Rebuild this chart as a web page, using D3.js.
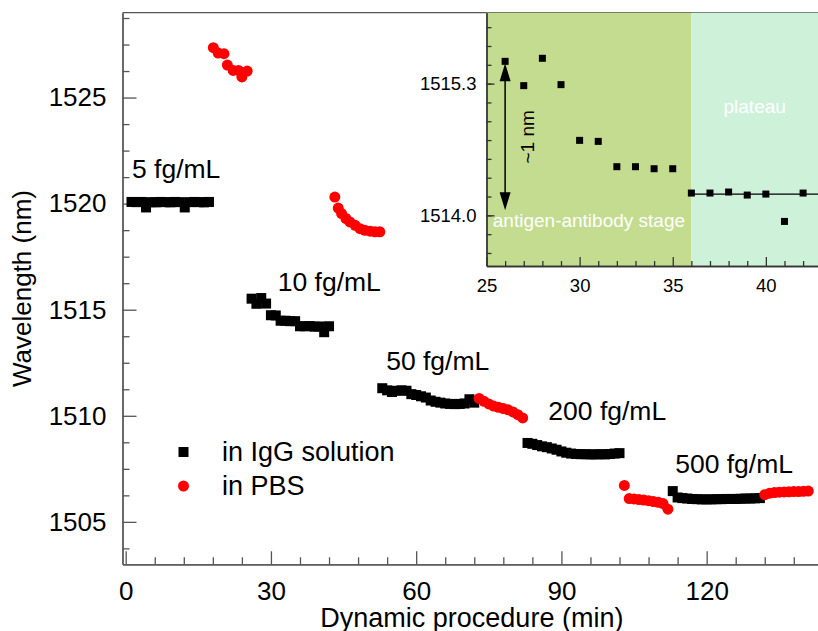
<!DOCTYPE html>
<html>
<head>
<meta charset="utf-8">
<script src="https://cdn.jsdelivr.net/npm/d3@7"></script>
<style>
  html, body { margin: 0; padding: 0; background: #fff; }
  svg { display: block; }
</style>
</head>
<body>
<svg id="chart" width="818" height="631"></svg>
<script>
// ---- Resonance wavelength recorded during the dynamic procedure ----
// IgG solution steps (black squares) and PBS rinses (red circles)
const igg5Time  = [1.2, 2.2, 3.2, 4.2, 5.2, 6.2, 7.2, 8.2, 9.2, 10.2, 11.2, 12.2, 13.2, 14.2, 15.2, 16.2, 17.2];
const igg5Wave  = [1520.08, 1520.07, 1520.08, 1519.82, 1520.07, 1520.06, 1520.08, 1520.07, 1520.06, 1520.08, 1520.07, 1519.82, 1520.07, 1520.08, 1520.07, 1520.06, 1520.08];

const pbs1Time  = [18.1, 19.1, 20.3, 21.0, 22.2, 23.3, 24.0, 25.1];
const pbs1Wave  = [1527.35, 1527.10, 1527.07, 1526.53, 1526.28, 1526.28, 1525.97, 1526.25];

const igg10Time = [26, 27, 28, 29, 30, 31, 32, 33, 34, 35, 36, 37, 38, 39, 40, 41, 42];
const igg10Wave = [1515.52, 1515.28, 1515.55, 1515.29, 1514.74, 1514.73, 1514.48, 1514.48, 1514.46, 1514.46, 1514.22, 1514.22, 1514.23, 1514.20, 1514.21, 1513.94, 1514.22];

const pbs2Time  = [43.2, 43.9, 44.6, 45.5, 46.3, 47.4, 48.4, 49.4, 50.5, 51.5, 52.5];
const pbs2Wave  = [1520.31, 1519.79, 1519.53, 1519.30, 1519.14, 1518.98, 1518.82, 1518.74, 1518.70, 1518.67, 1518.67];

const igg50Time = [53, 54, 55, 56, 57, 58, 59, 60, 61, 62, 63, 64, 65, 66, 67, 68, 69, 70, 71, 72];
const igg50Wave = [1511.30, 1511.20, 1511.12, 1511.18, 1511.20, 1511.18, 1511.02, 1510.98, 1510.92, 1510.86, 1510.72, 1510.66, 1510.62, 1510.58, 1510.56, 1510.55, 1510.56, 1510.58, 1510.78, 1510.62];

const pbs3Time  = [73, 74, 75, 76, 77, 78, 79, 80, 81, 82];
const pbs3Wave  = [1510.82, 1510.68, 1510.56, 1510.46, 1510.40, 1510.34, 1510.28, 1510.18, 1510.05, 1509.90];

const igg200Time = [83, 84, 85, 86, 87, 88, 89, 90, 91, 92, 93, 94, 95, 96, 97, 98, 99, 100, 101, 102];
const igg200Wave = [1508.72, 1508.68, 1508.62, 1508.56, 1508.52, 1508.46, 1508.40, 1508.32, 1508.26, 1508.22, 1508.20, 1508.19, 1508.19, 1508.18, 1508.18, 1508.19, 1508.18, 1508.20, 1508.22, 1508.24];

const pbs4Time  = [103, 104, 105, 106, 107, 108, 109, 110, 111, 112];
const pbs4Wave  = [1506.72, 1506.10, 1506.08, 1506.05, 1506.03, 1506.00, 1505.96, 1505.92, 1505.86, 1505.60];

const igg500Time = [113, 114, 115, 116, 117, 118, 119, 120, 121, 122, 123, 124, 125, 126, 127, 128, 129, 130, 131];
const igg500Wave = [1506.45, 1506.15, 1506.12, 1506.10, 1506.08, 1506.07, 1506.06, 1506.06, 1506.06, 1506.07, 1506.07, 1506.08, 1506.08, 1506.08, 1506.09, 1506.10, 1506.10, 1506.11, 1506.12];

const pbs5Time  = [132, 133, 134, 135, 136, 137, 138, 139, 140, 141];
const pbs5Wave  = [1506.28, 1506.35, 1506.38, 1506.40, 1506.41, 1506.42, 1506.43, 1506.43, 1506.44, 1506.45];

// Concentration annotations, anchored in data units (time, wavelength)
const concLabels = ["5 fg/mL", "10 fg/mL", "50 fg/mL", "200 fg/mL", "500 fg/mL"];
const concLabelTime = [1.3, 31.4, 53.8, 87.3, 113.5];
const concLabelWave = [1521.21, 1515.86, 1512.16, 1509.82, 1507.28];

// Axis ticks
const mainXTicks = [0, 30, 60, 90, 120];
const mainYTicks = [1505, 1510, 1515, 1520, 1525];
const insetXTicks = [25, 30, 35, 40];
const insetYTicks = [1514.0, 1515.3];

// Inset: zoom on the 10 fg/mL step
const stageBounds = [25, 36, 42.8];
const stageNames = ["antigen-antibody stage", "plateau"];
const stageLabelWave = [1513.88, 1515.01];
const plateauLevel = 1514.21;
const arrowTime = 26;
const arrowSpan = [1515.50, 1514.05];
const arrowText = "~1 nm";

const legendNames = ["in IgG solution", "in PBS"];

// ---- Build point lists ----
const zip = (ts, ws) => ts.map((t, i) => ({ t, w: ws[i] }));
const iggPoints = [
  zip(igg5Time, igg5Wave), zip(igg10Time, igg10Wave), zip(igg50Time, igg50Wave),
  zip(igg200Time, igg200Wave), zip(igg500Time, igg500Wave)
].flat();
const pbsPoints = [
  zip(pbs1Time, pbs1Wave), zip(pbs2Time, pbs2Wave), zip(pbs3Time, pbs3Wave),
  zip(pbs4Time, pbs4Wave), zip(pbs5Time, pbs5Wave)
].flat();
const insetPoints = zip(igg10Time, igg10Wave);

const FONT = "'Liberation Sans', Arial, Helvetica, sans-serif";
const RED = "#ff0000";
const AXIS = "#555";

const svg = d3.select("#chart");

// ---- Main panel ----
const x = d3.scaleLinear().domain([-0.66, 143.0]).range([122.5, 818]);
const y = d3.scaleLinear().domain([1503, 1529]).range([564.3, 12.7]);

// top frame line
svg.append("line")
  .attr("x1", x.range()[0]).attr("x2", x.range()[1])
  .attr("y1", y.range()[1]).attr("y2", y.range()[1])
  .attr("stroke", AXIS).attr("stroke-width", 1.3);

function styleAxis(g, size) {
  g.attr("font-family", FONT).attr("font-size", size);
  g.selectAll("path.domain").attr("stroke", AXIS).attr("stroke-width", 1.3);
  g.selectAll(".tick line").attr("stroke", AXIS).attr("stroke-width", 1.3);
  g.selectAll(".tick text").attr("fill", "#000");
}

const minorY = d3.range(1503.75, 1529, 1.25).filter(v => !mainYTicks.includes(v));
svg.append("g").attr("transform", `translate(${x.range()[0]},0)`)
  .call(d3.axisLeft(y).tickValues(minorY).tickFormat("").tickSizeInner(-7).tickSizeOuter(0))
  .call(g => styleAxis(g, 26));
svg.append("g").attr("transform", `translate(${x.range()[0]},0)`)
  .call(d3.axisLeft(y).tickValues(mainYTicks).tickFormat(d3.format("d"))
    .tickSizeInner(-14).tickSizeOuter(0).tickPadding(16))
  .call(g => styleAxis(g, 26));

const minorX = d3.range(0, 142, 6).filter(v => !mainXTicks.includes(v));
svg.append("g").attr("transform", `translate(0,${y.range()[0]})`)
  .call(d3.axisBottom(x).tickValues(minorX).tickFormat("").tickSizeInner(-7).tickSizeOuter(0))
  .call(g => styleAxis(g, 26));
svg.append("g").attr("transform", `translate(0,${y.range()[0]})`)
  .call(d3.axisBottom(x).tickValues(mainXTicks).tickFormat(d3.format("d"))
    .tickSizeInner(-13).tickSizeOuter(0).tickPadding(17))
  .call(g => styleAxis(g, 26));

// axis titles
svg.append("text")
  .attr("transform", `translate(31,${(y.range()[0] + y.range()[1]) / 2}) rotate(-90)`)
  .attr("text-anchor", "middle").attr("font-family", FONT).attr("font-size", 26)
  .text("Wavelength (nm)");
svg.append("text")
  .attr("x", (x(0) + x.range()[1]) / 2).attr("y", 627)
  .attr("text-anchor", "middle").attr("font-family", FONT).attr("font-size", 27)
  .text("Dynamic procedure (min)");

// data marks
const SQ = 10, R = 5.5;
svg.append("g").selectAll("rect").data(iggPoints).join("rect")
  .attr("x", d => x(d.t) - SQ / 2).attr("y", d => y(d.w) - SQ / 2)
  .attr("width", SQ).attr("height", SQ).attr("fill", "#000");
svg.append("g").selectAll("circle").data(pbsPoints).join("circle")
  .attr("cx", d => x(d.t)).attr("cy", d => y(d.w)).attr("r", R).attr("fill", RED);

// concentration annotations
svg.append("g").selectAll("text").data(concLabels).join("text")
  .attr("x", (d, i) => x(concLabelTime[i])).attr("y", (d, i) => y(concLabelWave[i]))
  .attr("font-family", FONT).attr("font-size", 26.5).attr("fill", "#000")
  .text(d => d);

// legend
const legend = svg.append("g").attr("font-family", FONT).attr("font-size", 27);
legend.append("rect").attr("x", 183.5 - SQ / 2).attr("y", 452 - SQ / 2)
  .attr("width", SQ).attr("height", SQ).attr("fill", "#000");
legend.append("circle").attr("cx", 183.5).attr("cy", 486).attr("r", R).attr("fill", RED);
legend.append("text").attr("x", 222).attr("y", 461).text(legendNames[0]);
legend.append("text").attr("x", 222).attr("y", 495).text(legendNames[1]);

// ---- Inset ----
const xi = d3.scaleLinear().domain([stageBounds[0], stageBounds[2]]).range([486.5, 818]);
const yi = d3.scaleLinear().domain([1513.5, 1516.0]).range([266, 12.7]);
const inset = svg.append("g");

inset.append("rect")
  .attr("x", xi(stageBounds[0])).attr("y", yi.range()[1])
  .attr("width", xi(stageBounds[1]) - xi(stageBounds[0]))
  .attr("height", yi.range()[0] - yi.range()[1])
  .attr("fill", "#c3dc8f");
inset.append("rect")
  .attr("x", xi(stageBounds[1])).attr("y", yi.range()[1])
  .attr("width", xi(stageBounds[2]) - xi(stageBounds[1]))
  .attr("height", yi.range()[0] - yi.range()[1])
  .attr("fill", "#cef1da");

function styleInset(g) {
  g.attr("font-family", FONT).attr("font-size", 18.5);
  g.selectAll("path.domain").attr("stroke", "#333").attr("stroke-width", 1.3);
  g.selectAll(".tick line").attr("stroke", "#333").attr("stroke-width", 1.3);
  g.selectAll(".tick text").attr("fill", "#000");
}
const yStep = (insetYTicks[1] - insetYTicks[0]) / 7;
const minorYi = d3.range(-2, 11).map(k => insetYTicks[0] + k * yStep)
  .filter(v => v > yi.domain()[0] && v < yi.domain()[1]);
inset.append("g").attr("transform", `translate(${xi.range()[0]},0)`)
  .call(d3.axisLeft(yi).tickValues(minorYi).tickFormat("").tickSizeInner(-5).tickSizeOuter(0))
  .call(styleInset);
inset.append("g").attr("transform", `translate(${xi.range()[0]},0)`)
  .call(d3.axisLeft(yi).tickValues(insetYTicks).tickFormat(d3.format(".1f"))
    .tickSizeInner(-8).tickSizeOuter(0).tickPadding(10))
  .call(styleInset);
const minorXi = d3.range(26, 43, 1).filter(v => !insetXTicks.includes(v));
inset.append("g").attr("transform", `translate(0,${yi.range()[0]})`)
  .call(d3.axisBottom(xi).tickValues(minorXi).tickFormat("").tickSizeInner(-5).tickSizeOuter(0))
  .call(styleInset);
inset.append("g").attr("transform", `translate(0,${yi.range()[0]})`)
  .call(d3.axisBottom(xi).tickValues(insetXTicks).tickFormat(d3.format("d"))
    .tickSizeInner(-9).tickSizeOuter(0).tickPadding(13))
  .call(styleInset);

// plateau level
inset.append("line")
  .attr("x1", xi(stageBounds[1])).attr("x2", xi.range()[1])
  .attr("y1", yi(plateauLevel)).attr("y2", yi(plateauLevel))
  .attr("stroke", "#000").attr("stroke-width", 1.3);

// ~1 nm double arrow
const ax = xi(arrowTime), aTop = yi(arrowSpan[0]), aBot = yi(arrowSpan[1]);
const HL = 18, HW = 5.5;
inset.append("line").attr("x1", ax).attr("x2", ax)
  .attr("y1", aTop + HL - 2).attr("y2", aBot - HL + 2)
  .attr("stroke", "#000").attr("stroke-width", 1.5);
inset.append("path")
  .attr("d", `M${ax},${aTop}L${ax - HW},${aTop + HL}L${ax + HW},${aTop + HL}Z`).attr("fill", "#000");
inset.append("path")
  .attr("d", `M${ax},${aBot}L${ax - HW},${aBot - HL}L${ax + HW},${aBot - HL}Z`).attr("fill", "#000");
inset.append("text")
  .attr("transform", `translate(${ax + 29},${(aTop + aBot) / 2}) rotate(-90)`)
  .attr("text-anchor", "middle").attr("font-family", FONT).attr("font-size", 19)
  .text(arrowText);

// inset points
const SQI = 7;
inset.append("g").selectAll("rect").data(insetPoints).join("rect")
  .attr("x", d => xi(d.t) - SQI / 2).attr("y", d => yi(d.w) - SQI / 2)
  .attr("width", SQI).attr("height", SQI).attr("fill", "#000");

// stage names
inset.append("g").selectAll("text").data(stageNames).join("text")
  .attr("x", (d, i) => xi((stageBounds[i] + stageBounds[i + 1]) / 2))
  .attr("y", (d, i) => yi(stageLabelWave[i]))
  .attr("text-anchor", "middle").attr("font-family", FONT).attr("font-size", 19)
  .attr("fill", "#fff")
  .text(d => d);
</script>
</body>
</html>
